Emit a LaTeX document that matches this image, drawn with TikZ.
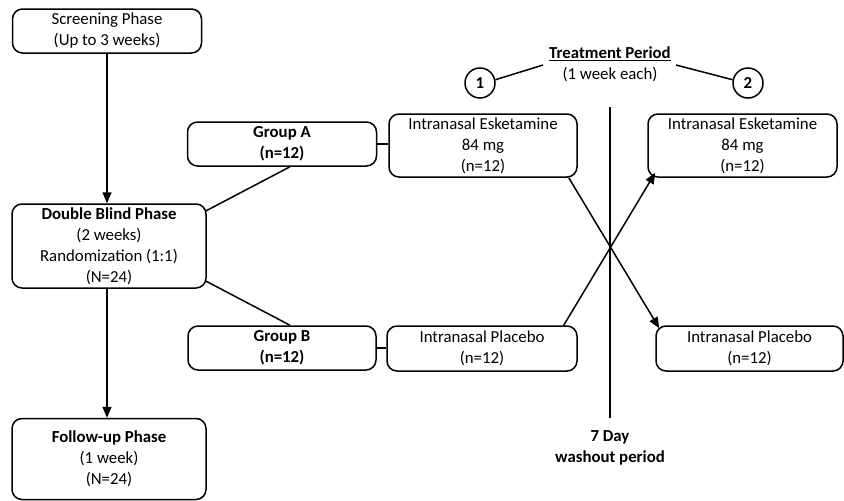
\documentclass[tikz,border=0pt]{standalone}
\usepackage{fontspec}
\setmainfont{Carlito}
\usetikzlibrary{calc,arrows.meta}
\begin{document}
\begin{tikzpicture}[x=1pt,y=-1pt,
  every node/.style={font=\fontsize{16.8}{21}\selectfont},
  box/.style={draw, line width=1.5pt, rounded corners=10pt, align=center, inner sep=0pt},
  num/.style={draw, circle, line width=1.5pt, minimum size=30pt, inner sep=0pt, font=\fontsize{16.8}{21}\selectfont\bfseries},
  conn/.style={line width=1.5pt},
  arr/.style={line width=1.5pt, -{Triangle[length=11pt,width=9pt]}}]
\useasboundingbox (0,0) rectangle (844,501);
\node[box, minimum width=189pt, minimum height=44pt] (scr) at (107,31) {Screening Phase\\(Up to 3 weeks)};
\node[box, minimum width=194pt, minimum height=84pt] (dbl) at (109,246) {\textbf{Double Blind Phase}\\(2 weeks)\\Randomization (1:1)\\(N=24)};
\node[box, minimum width=194pt, minimum height=81pt] (fu) at (109,459) {\textbf{Follow-up Phase}\\(1 week)\\(N=24)};
\node[box, minimum width=189pt, minimum height=44pt] (ga) at (282,144) {\textbf{Group A}\\\textbf{(n=12)}};
\node[box, minimum width=188pt, minimum height=44pt] (gb) at (282,348) {\textbf{Group B}\\\textbf{(n=12)}};
\node[box, minimum width=188pt, minimum height=63pt] (e1) at (483,145.5) {Intranasal Esketamine\\84 mg\\(n=12)};
\node[box, minimum width=190pt, minimum height=45pt] (p1) at (482,348.5) {Intranasal Placebo\\(n=12)};
\node[box, minimum width=189pt, minimum height=63pt] (e2) at (742.5,145.5) {Intranasal Esketamine\\84 mg\\(n=12)};
\node[box, minimum width=187pt, minimum height=45pt] (p2) at (749.5,348.5) {Intranasal Placebo\\(n=12)};
\node[num] (c1) at (480,83) {1};
\node[num] (c2) at (748,83) {2};
\node[align=center, inner sep=0pt] (tp) at (610,64) {\underline{\textbf{Treatment Period}}\\(1 week each)};
\coordinate (tl) at (543,65);
\coordinate (tr) at (676,65);
\coordinate (wtop) at (610,107);
\coordinate (wbot) at (610,418);
\node[align=center, inner sep=0pt, font=\fontsize{16.8}{21}\selectfont\bfseries] (wash) at (610,448) {7 Day\\washout period};
% connectors
\draw[arr] (scr.south) -- (scr.south |- dbl.north);
\draw[arr] ($(dbl.south)+(-2,0)$) -- ($(fu.north)+(-2,0)$);
\draw[conn] ($(dbl.east)+(-1,-35)$) -- ($(ga.south)+(8,0)$);
\draw[conn] ($(dbl.east)+(-1,35)$) -- ($(gb.north)+(8,0)$);
\draw[conn] (ga.east) -- (ga.east -| e1.west);
\draw[conn] (gb.east) -- (gb.east -| p1.west);
\draw[arr] ($(e1.south east)+(-9,0)$) -- ($(p2.north west)+(4,3)$);
\draw[arr] ($(p1.north east)+(-14,0)$) -- ($(e2.south west)+(8,-5)$);
\draw[conn] (c1.12) -- (tl);
\draw[conn] (tr) -- (c2.168);
\draw[conn] (wtop) -- (wbot);
\end{tikzpicture}
\end{document}
